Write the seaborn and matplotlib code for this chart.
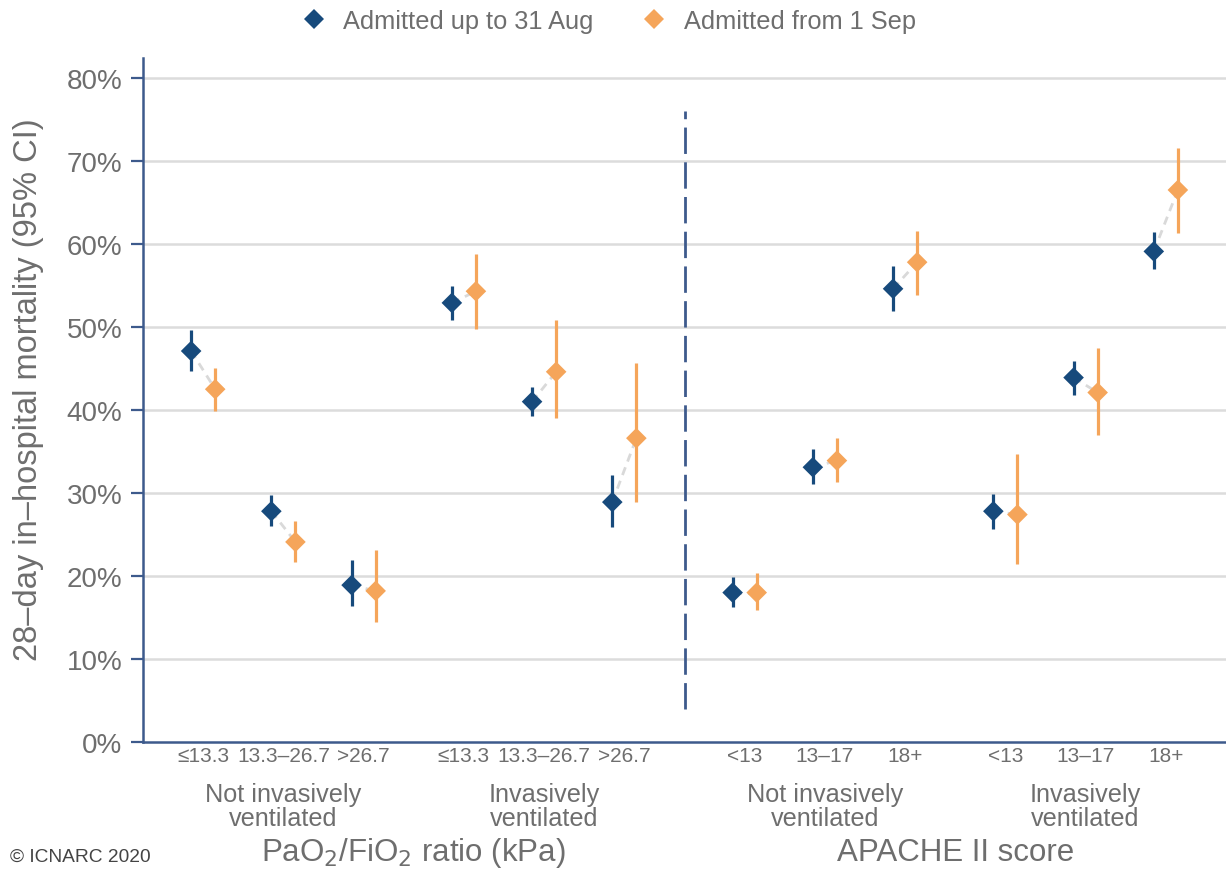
import numpy as np
import pandas as pd
import matplotlib
matplotlib.use("Agg")
import matplotlib.pyplot as plt
from matplotlib.lines import Line2D
import seaborn as sns

sns.set_theme(style="white")
plt.rcParams['font.family'] = ['Liberation Sans', 'DejaVu Sans']

# ---------------- data ----------------
categories = ["≤13.3", "13.3–26.7", ">26.7", "≤13.3", "13.3–26.7", ">26.7",
              "<13", "13–17", "18+", "<13", "13–17", "18+"]
subgroups = ["Not invasively\nventilated", "Invasively\nventilated",
             "Not invasively\nventilated", "Invasively\nventilated"]
measures = ["PaO$_2$/FiO$_2$ ratio (kPa)", "APACHE II score"]
periods = ["Admitted up to 31 Aug", "Admitted from 1 Sep"]

aug_est = [47.1, 27.8, 18.9, 52.9, 41.0, 28.9, 18.0, 33.1, 54.6, 27.8, 43.9, 59.1]
aug_lo = [44.7, 26.0, 16.4, 50.8, 39.3, 25.9, 16.3, 31.1, 51.9, 25.7, 41.8, 57.0]
aug_hi = [49.6, 29.8, 21.9, 54.9, 42.8, 32.2, 19.9, 35.3, 57.4, 29.9, 45.9, 61.4]

sep_est = [42.5, 24.1, 18.2, 54.3, 44.6, 36.6, 18.0, 33.9, 57.8, 27.4, 42.1, 66.5]
sep_lo = [39.9, 21.7, 14.5, 49.8, 39.0, 28.9, 15.9, 31.3, 53.9, 21.5, 37.0, 61.3]
sep_hi = [45.1, 26.6, 23.1, 58.8, 50.8, 45.6, 20.4, 36.6, 61.6, 34.7, 47.5, 71.6]

# ---------------- layout ----------------
xpos = [1, 2, 3, 4.25, 5.25, 6.25, 7.75, 8.75, 9.75, 11, 12, 13]
period_offset = [-0.15, 0.15]
palette = {periods[0]: "#174a7c", periods[1]: "#f5a55a"}

rows = []
for i in range(len(categories)):
    for p, (est, lo, hi) in enumerate([(aug_est, aug_lo, aug_hi), (sep_est, sep_lo, sep_hi)]):
        rows.append(dict(pair=i, period=periods[p], x=xpos[i] + period_offset[p],
                         est=est[i], lo=lo[i], hi=hi[i]))
df = pd.DataFrame(rows)

TXT = "#6e6e6e"
SPINE = "#3d5a8c"

fig = plt.figure(figsize=(12.26, 8.70), dpi=100)
ax = fig.add_axes([143 / 1226, (870 - 743) / 870, (1226 - 143) / 1226, (743 - 59) / 870])

# grid
for v in range(10, 90, 10):
    ax.axhline(v, color="#dcdcdc", lw=1.8, zorder=0)

# connecting dashed lines
sns.lineplot(data=df, x="x", y="est", units="pair", estimator=None, sort=False,
             color="#d9d9d9", lw=2.0, linestyle=(0, (3, 2.2)), ax=ax, legend=False, zorder=1)

# CI bars
for per in periods:
    sub = df[df.period == per]
    ax.vlines(sub.x, sub.lo, sub.hi, colors=palette[per], lw=2.3, zorder=2)

# points
sns.scatterplot(data=df, x="x", y="est", hue="period", palette=palette, marker="D",
                s=110, edgecolor="none", linewidth=0, ax=ax, legend=False, zorder=3)

# divider
ax.vlines(7, 4, 76, colors=SPINE, lw=2.0, linestyles=(0, (9.5, 3.0)), zorder=2)

ax.set_xlim(0.25, 13.75)
ax.set_ylim(0, 82.4)
ax.set_yticks(range(0, 90, 10))
ax.set_yticklabels([f"{v}%" for v in range(0, 90, 10)], color=TXT, fontsize=20)
ax.set_xticks([])
ax.set_xlabel("")
ax.set_ylabel("")
ax.tick_params(axis="y", length=9, width=1.6, color=SPINE, pad=6, left=True)
for s in ["top", "right"]:
    ax.spines[s].set_visible(False)
for s in ["left", "bottom"]:
    ax.spines[s].set_color(SPINE)
    ax.spines[s].set_linewidth(1.8)

# category labels
for x, lab in zip(xpos, categories):
    ax.annotate(lab, xy=(x, 0), xycoords=("data", "axes fraction"), xytext=(0, -10),
                textcoords="offset points", ha="center", va="center", color=TXT, fontsize=15)
# subgroup labels
for g, lab in enumerate(subgroups):
    xc = xpos[3 * g + 1]
    ax.annotate(lab, xy=(xc, 0), xycoords=("data", "axes fraction"), xytext=(0, -46),
                textcoords="offset points", ha="center", va="center", color=TXT,
                fontsize=18.2, linespacing=1.02)
# measure labels
for m, lab in enumerate(measures):
    xc = (xpos[6 * m] + xpos[6 * m + 5]) / 2
    ax.annotate(lab, xy=(xc, 0), xycoords=("data", "axes fraction"), xytext=(0, -79),
                textcoords="offset points", ha="center", va="center", color=TXT, fontsize=22.5)

fig.text(29 / 1226, 1 - 390 / 870, "28–day in–hospital mortality (95% CI)", rotation=90,
         ha="center", va="center", color=TXT, fontsize=23.5)
fig.text(10 / 1226, 1 - 857 / 870, "© ICNARC 2020", ha="left", va="center", color="#444444",
         fontsize=13.8)

handles = [Line2D([], [], marker="D", linestyle="none", markersize=10, color=palette[p],
                  markeredgewidth=0) for p in periods]
fig.legend(handles, periods, loc="center", bbox_to_anchor=(0.491, 1 - 22 / 870), ncol=2,
           frameon=False, fontsize=18.3, labelcolor=TXT, handletextpad=0.15, columnspacing=1.4)

fig.savefig("out.png", dpi=100)
